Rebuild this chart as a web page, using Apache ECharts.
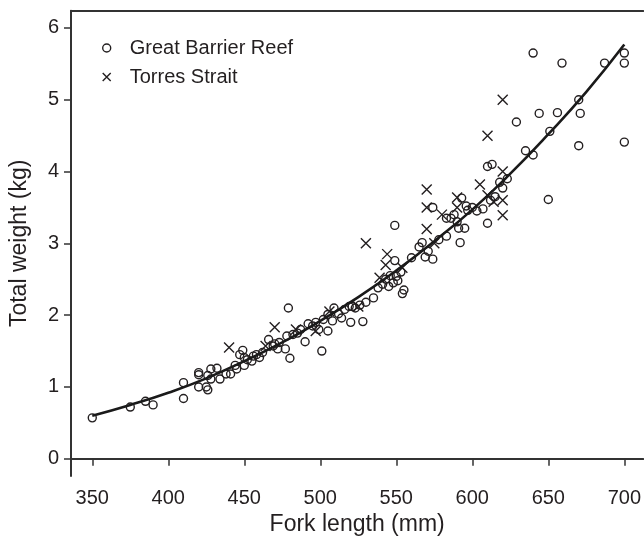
<!DOCTYPE html>
<html>
<head>
<meta charset="utf-8">
<script src="https://cdn.jsdelivr.net/npm/echarts@6/dist/echarts.min.js"></script>
<style>
html,body{margin:0;padding:0;background:#fff;}
#chart{width:644px;height:541px;}
</style>
</head>
<body>
<div id="chart"></div>
<script>
// Great Barrier Reef (circles): [fork length mm, total weight kg]
var gbrPoints = [
[350,0.57],[375,0.72],[385,0.80],[390,0.75],[410,1.06],[410,0.84],[420,1.20],[420,1.17],[420,1.00],
[425,1.00],[426,0.96],[428,1.25],[432,1.26],[426,1.16],[428,1.11],[434,1.11],[438,1.18],[441,1.18],
[444,1.30],[449,1.51],[450,1.41],[450,1.30],[455,1.36],[456,1.43],[460,1.41],[466,1.66],[469,1.57],
[472,1.53],[478,1.71],[477,1.53],[480,1.40],[479,2.10],[482,1.73],[487,1.80],[490,1.63],[492,1.88],
[499,1.80],[502,1.94],[501,1.50],[505,1.78],[508,1.92],[509,2.10],[505,2.01],[514,1.96],[520,1.90],
[521,2.12],[519,2.12],[528,1.91],[535,2.24],[538,2.38],[541,2.43],[545,2.40],[548,2.45],[551,2.48],
[550,2.54],[549,2.76],[549,3.25],[555,2.35],[554,2.30],[567,3.01],[571,2.89],[569,2.81],[574,2.78],
[574,3.50],[583,3.10],[586,3.35],[593,3.63],[596,3.52],[597,3.46],[590,3.30],[591,3.21],[595,3.21],
[592,3.01],[607,3.48],[610,3.28],[620,3.77],[623,3.90],[610,4.07],[613,4.10],[629,4.69],[635,4.29],
[640,4.23],[640,5.65],[644,4.81],[651,4.56],[650,3.61],[656,4.82],[659,5.51],[670,5.00],[670,4.36],
[671,4.81],[687,5.51],[700,5.65],[700,5.51],[700,4.41],
[445,1.25],[447,1.45],[452,1.38],[458,1.45],[462,1.48],[470,1.60],[473,1.62],[485,1.75],[495,1.85],
[497,1.90],[512,2.02],[516,2.08],[523,2.10],[526,2.14],[530,2.18],[543,2.50],[546,2.55],[553,2.60],
[560,2.80],[565,2.95],[578,3.05],[583,3.35],[588,3.40],[600,3.50],[603,3.45],[615,3.65],[618,3.85],[612,3.60]
];
// Torres Strait (crosses)
var tsPoints = [
[440,1.55],[464,1.57],[470,1.83],[484,1.80],[497,1.78],[506,2.05],[525,2.12],[530,3.00],[539,2.52],
[543,2.70],[544,2.85],[554,2.66],[570,3.75],[570,3.50],[570,3.20],[575,3.00],[580,3.40],[590,3.64],
[590,3.50],[605,3.82],[610,3.67],[614,3.58],[620,3.60],[620,3.39],[620,4.00],[610,4.50],[620,5.00]
];
// Fitted curve
var fitLength = [350,375,400,425,450,475,500,525,550,575,600,625,650,675,700];
var fitWeight = [0.60,0.75,0.92,1.12,1.36,1.62,1.92,2.25,2.62,3.03,3.47,3.97,4.52,5.11,5.77];
var xTicks = [350,400,450,500,550,600,650,700];
var yTicks = [0,1,2,3,4,5,6];
var seriesNames = ['Great Barrier Reef','Torres Strait'];

var FONT = '"Liberation Sans", Arial, Helvetica, sans-serif';
var INK = '#231f20';
var crossPath = 'path://M0,0L10,10M10,0L0,10';

var chart = echarts.init(document.getElementById('chart'), null, {renderer:'canvas'});
var fitData = fitLength.map(function(x,i){return [x, fitWeight[i]];});

chart.setOption({
  animation:false,
  backgroundColor:'#fff',
  textStyle:{fontFamily:FONT,color:INK},
  grid:{left:71,right:0,top:10.7,bottom:61,containLabel:false},
  legend:{
    orient:'vertical',left:97,top:33,itemWidth:36,itemHeight:8,itemGap:9,
    textStyle:{fontFamily:FONT,fontSize:20,color:INK},
    data:[
      {name:seriesNames[0],icon:'circle',itemStyle:{color:'rgba(0,0,0,0)',borderColor:INK,borderWidth:1.4}},
      {name:seriesNames[1],icon:crossPath,itemStyle:{color:'rgba(0,0,0,0)',borderColor:INK,borderWidth:1.4}}
    ]
  },
  xAxis:[{
    type:'value',min:336,max:712.5,position:'bottom',
    axisLine:{show:true,lineStyle:{color:'#333',width:2}},
    axisTick:{show:true,inside:false,length:7,customValues:xTicks,lineStyle:{color:'#333',width:1.5}},
    axisLabel:{show:true,customValues:xTicks,fontSize:20,color:INK,margin:12,fontFamily:FONT},
    splitLine:{show:false},
    name:'Fork length (mm)',nameLocation:'middle',nameGap:37,
    nameTextStyle:{fontSize:23,color:INK,fontFamily:FONT}
  },{
    type:'value',min:336,max:712.5,position:'top',
    axisLine:{show:true,onZero:false,lineStyle:{color:'#333',width:2}},
    axisTick:{show:false},axisLabel:{show:false},splitLine:{show:false}
  }],
  yAxis:{
    type:'value',min:-0.24,max:6.24,
    axisLine:{show:true,onZero:false,lineStyle:{color:'#333',width:2}},
    axisTick:{show:true,inside:false,length:7,customValues:yTicks,lineStyle:{color:'#333',width:1.5}},
    axisLabel:{show:true,customValues:yTicks,fontSize:20,color:INK,margin:12,fontFamily:FONT},
    splitLine:{show:false},
    name:'Total weight (kg)',nameLocation:'middle',nameGap:40,
    nameTextStyle:{fontSize:23,color:INK,fontFamily:FONT}
  },
  series:[
    {
      name:'fit',type:'line',data:fitData,smooth:true,symbol:'none',
      lineStyle:{color:'#1a1a1a',width:2.6},z:3,silent:true
    },
    {
      name:seriesNames[0],type:'scatter',data:gbrPoints,symbol:'circle',symbolSize:8,
      itemStyle:{color:'rgba(0,0,0,0)',borderColor:INK,borderWidth:1.4,opacity:1},z:2
    },
    {
      name:seriesNames[1],type:'scatter',data:tsPoints,symbol:crossPath,symbolSize:10,
      itemStyle:{color:'rgba(0,0,0,0)',borderColor:INK,borderWidth:1.4,opacity:1},z:2
    }
  ]
});
</script>
</body>
</html>
